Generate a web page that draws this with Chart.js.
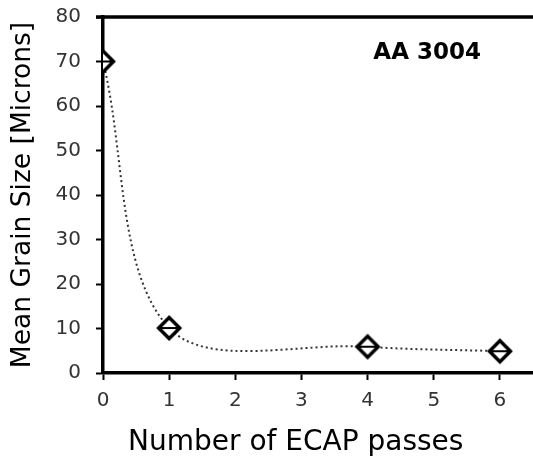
<!DOCTYPE html>
<html>
<head>
<meta charset="utf-8">
<script src="https://cdn.jsdelivr.net/npm/chart.js@4.4.1/dist/chart.umd.min.js"></script>
<style>
  html, body { margin: 0; padding: 0; background: #fff; }
  #wrap { width: 533px; height: 461px; }
</style>
</head>
<body>
<div id="wrap"><canvas id="chart"></canvas></div>
<script>
const passes = [0, 1, 4, 6];
const grainSize = [70, 10.1, 5.9, 4.9];
const xTicks = [0, 1, 2, 3, 4, 5, 6];
const yTicks = [0, 10, 20, 30, 40, 50, 60, 70, 80];
const alloyLabel = "AA 3004";

// diamond marker with a bar through it
function makeMarker() {
  const c = document.createElement("canvas");
  c.width = 28; c.height = 28;
  const g = c.getContext("2d");
  g.beginPath();
  g.moveTo(14, 3.5); g.lineTo(24.5, 14); g.lineTo(14, 24.5); g.lineTo(3.5, 14); g.closePath();
  g.fillStyle = "#fff"; g.fill();
  g.lineWidth = 3.5; g.strokeStyle = "#000"; g.stroke();
  g.beginPath();
  g.moveTo(6, 14); g.lineTo(22, 14);
  g.lineWidth = 2; g.stroke();
  return c;
}

const frame = {
  id: "frame",
  afterDraw(chart) {
    const { ctx, chartArea, scales } = chart;
    ctx.save();
    ctx.strokeStyle = "#000";
    ctx.lineWidth = 3.5;
    ctx.beginPath();
    ctx.moveTo(chartArea.left - 7, chartArea.top);
    ctx.lineTo(chartArea.right, chartArea.top);
    ctx.stroke();
    ctx.fillStyle = "#000";
    ctx.font = "bold 23px 'DejaVu Sans', sans-serif";
    ctx.textAlign = "center";
    ctx.textBaseline = "middle";
    ctx.fillText(alloyLabel, scales.x.getPixelForValue(4.9), scales.y.getPixelForValue(71.8));
    ctx.restore();
  }
};

const font = "'DejaVu Sans', sans-serif";

new Chart(document.getElementById("chart"), {
  type: "line",
  data: {
    datasets: [{
      data: passes.map((x, i) => ({ x: x, y: grainSize[i] })),
      borderColor: "#333",
      borderWidth: 2,
      borderDash: [2, 3],
      tension: 0.34,
      pointStyle: makeMarker(),
      fill: false
    }]
  },
  options: {
    responsive: true,
    maintainAspectRatio: false,
    animation: false,
    layout: { autoPadding: false, padding: { top: 17, left: 0, right: 0, bottom: 0 } },
    plugins: { legend: { display: false }, tooltip: { enabled: false } },
    scales: {
      x: {
        type: "linear",
        min: 0,
        max: 6.5,
        afterFit: s => { s.height = 88; s.paddingLeft = 0; s.paddingRight = 0; },
        afterBuildTicks: s => { s.ticks = xTicks.map(v => ({ value: v })); },
        border: { display: true, color: "#000", width: 3.5 },
        grid: { drawOnChartArea: false, tickLength: 7, tickWidth: 2, tickColor: "#000" },
        ticks: { color: "#333", font: { family: font, size: 20 }, padding: 9, maxRotation: 0 },
        // trailing spaces pull the centred title left, as in the original
        title: { display: true, text: "Number of ECAP passes\u00a0\u00a0\u00a0\u00a0\u00a0", color: "#000", font: { family: font, size: 28, lineHeight: 1 }, padding: 4 }
      },
      y: {
        min: 0,
        max: 80,
        afterFit: s => { s.width = 103; s.paddingTop = 0; s.paddingBottom = 0; },
        afterBuildTicks: s => { s.ticks = yTicks.map(v => ({ value: v })); },
        border: { display: true, color: "#000", width: 3.5 },
        grid: { drawOnChartArea: false, tickLength: 7, tickWidth: 2, tickColor: "#000" },
        ticks: { color: "#333", font: { family: font, size: 20 }, padding: 15 },
        title: { display: true, text: "Mean Grain Size [Microns]", color: "#000", font: { family: font, size: 26.5, lineHeight: 1 }, padding: 10 }
      }
    }
  },
  plugins: [frame]
});
</script>
</body>
</html>
